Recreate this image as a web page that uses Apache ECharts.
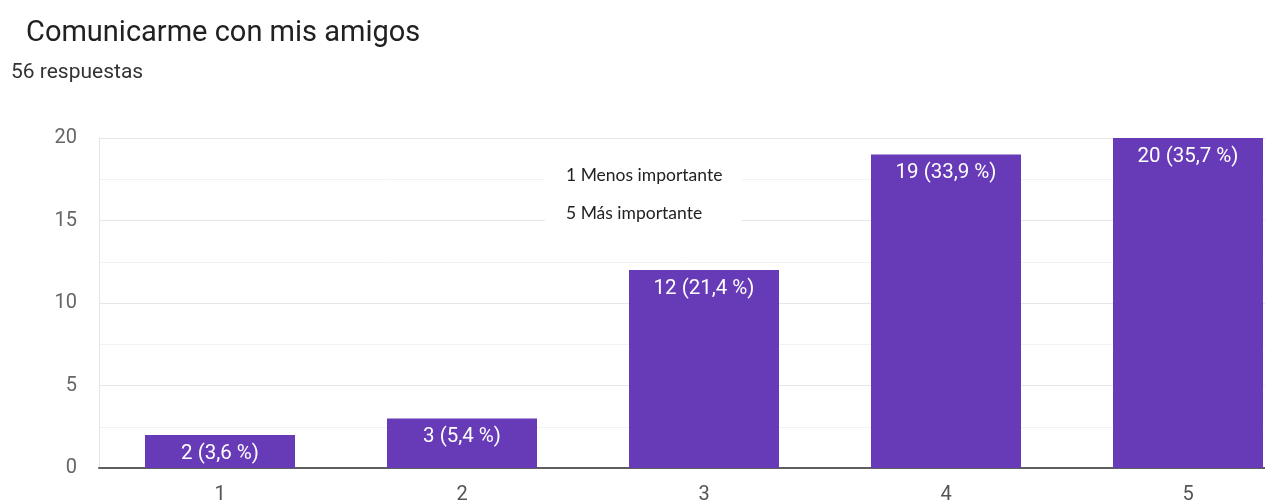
<!DOCTYPE html>
<html>
<head>
<meta charset="utf-8">
<script src="https://cdn.jsdelivr.net/npm/echarts@6/dist/echarts.min.js"></script>
<style>
  html, body { margin: 0; padding: 0; background: #fff; }
  #chart { width: 1265px; height: 504px; }
</style>
</head>
<body>
<div id="chart"></div>
<script>
// Survey answers: importance rating 1–5
const categories = ['1', '2', '3', '4', '5'];
const counts = [2, 3, 12, 19, 20];
const percents = ['3,6 %', '5,4 %', '21,4 %', '33,9 %', '35,7 %'];
const yTicks = [0, 5, 10, 15, 20];

const titleText = 'Comunicarme con mis amigos';
const subtitleText = '56 respuestas';
const noteLines = ['1 Menos importante', '5 Más importante'];

const chart = echarts.init(document.getElementById('chart'), null, { renderer: 'canvas' });

chart.setOption({
  animation: false,
  backgroundColor: '#ffffff',
  title: [
    {
      text: titleText,
      left: 21, top: 14,
      textStyle: { fontFamily: 'Roboto', fontSize: 29, fontWeight: 'normal', color: '#212121' }
    },
    {
      text: subtitleText,
      left: 6, top: 57,
      textStyle: { fontFamily: 'Roboto', fontSize: 21, fontWeight: 'normal', color: '#333333' }
    }
  ],
  // plot area runs past the right edge of the canvas
  grid: { left: 99, width: 1210, top: 138, height: 330, containLabel: false, outerBoundsMode: 'none' },
  xAxis: {
    type: 'category',
    data: categories,
    axisTick: { show: false },
    axisLine: { lineStyle: { color: '#5f5f5f', width: 2 } },
    axisLabel: { fontFamily: 'Roboto', fontSize: 20, color: '#555555', margin: 17 }
  },
  yAxis: {
    type: 'value',
    min: yTicks[0],
    max: yTicks[yTicks.length - 1],
    interval: 5,
    axisLine: { show: true, lineStyle: { color: '#e4e4e4', width: 1 } },
    axisTick: { show: false },
    axisLabel: { fontFamily: 'Roboto', fontSize: 20, color: '#666666', margin: 22 },
    splitLine: { lineStyle: { color: '#e6e6e6', width: 1 } },
    minorTick: { show: false, splitNumber: 2 },
    minorSplitLine: { show: true, lineStyle: { color: '#f2f2f2', width: 1 } }
  },
  series: [{
    type: 'bar',
    data: counts,
    barWidth: 150,
    itemStyle: { color: '#673ab7' },
    label: {
      show: true,
      position: 'insideTop',
      distance: 8,
      fontFamily: 'Roboto',
      fontSize: 20.5,
      color: '#ffffff',
      formatter: p => p.value + ' (' + percents[p.dataIndex] + ')'
    }
  }],
  graphic: [{
    type: 'group',
    left: 545, top: 141,
    z: 100,
    children: [
      { type: 'rect', z: 100, shape: { x: 0, y: 0, width: 197, height: 86 }, style: { fill: '#ffffff' } },
      { type: 'text', z: 101, x: 21, y: 34, style: { text: noteLines[0], fontFamily: 'Lato', fontSize: 17.5, fill: '#222222', textVerticalAlign: 'middle' } },
      { type: 'text', z: 101, x: 21, y: 72, style: { text: noteLines[1], fontFamily: 'Lato', fontSize: 17.5, fill: '#222222', textVerticalAlign: 'middle' } }
    ]
  }]
});
</script>
</body>
</html>
